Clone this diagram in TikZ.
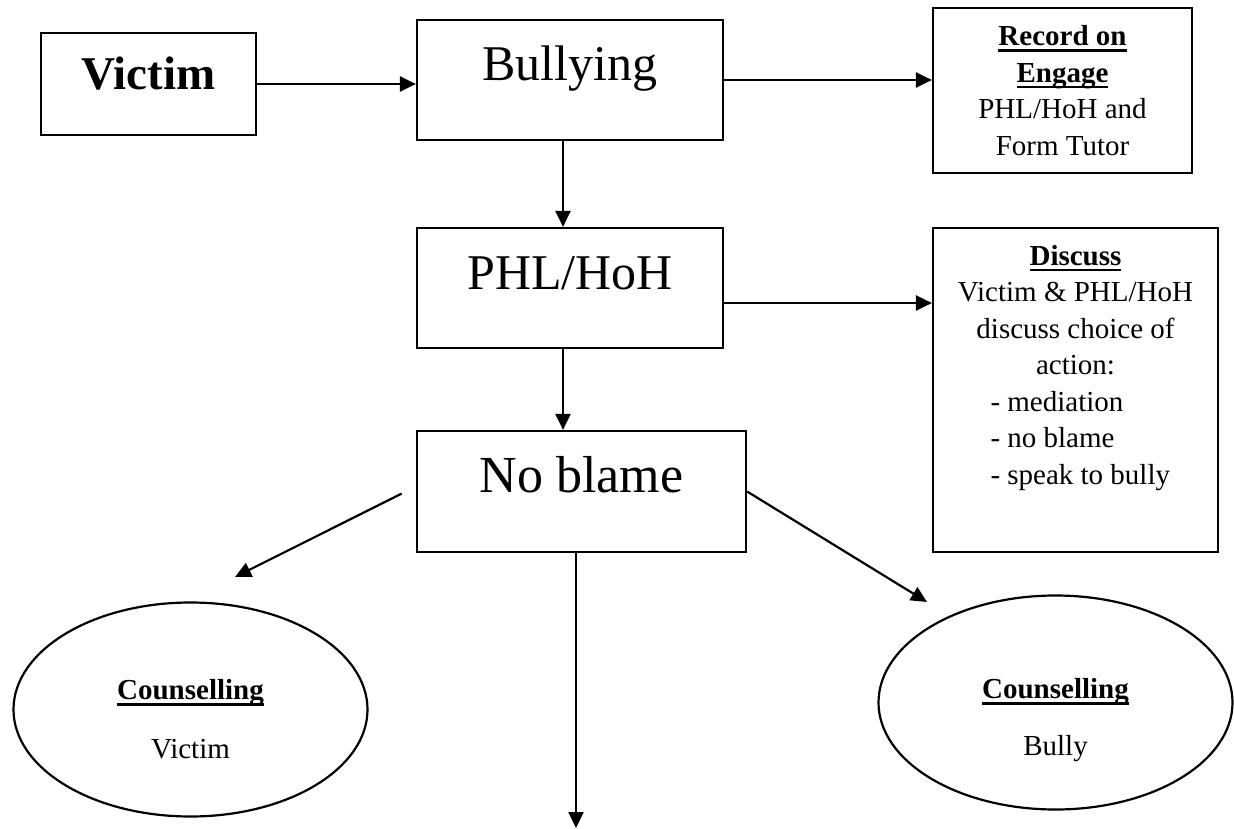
\documentclass[tikz,border=0pt]{standalone}
\usepackage{fontspec}
\setmainfont{Liberation Serif}
\usetikzlibrary{arrows.meta,shapes.geometric,positioning}
\newcommand{\undl}[1]{\setbox0\hbox{#1}\rlap{\rule[-6pt]{\wd0}{2.4pt}}\box0}
\begin{document}
\begin{tikzpicture}[x=1pt,y=-1pt,
    box/.style={draw,line width=2.2pt,inner sep=0pt},
    big/.style={font=\fontsize{50}{60}\selectfont,text height=61pt,text depth=59pt},
    small/.style={font=\fontsize{29}{36.5}\selectfont,align=center},
    oval/.style={draw,ellipse,line width=2.2pt,inner sep=0pt,
      minimum width=354pt,minimum height=214pt,font=\fontsize{29}{35}\selectfont,align=center},
    link/.style={-{Triangle[length=16pt,width=15pt]},line width=2.2pt}]
  \useasboundingbox (0,0) rectangle (1234,829);
  \node[box,font=\fontsize{47}{56}\selectfont\bfseries,minimum width=215pt,
    text height=57pt,text depth=45pt] (victim) at (148.5,84) {Victim};
  \node[box,big,minimum width=306pt] (bully) at (570,80) {Bullying};
  \node[box,big,minimum width=306pt] (phl) at (570,288) {PHL/HoH};
  \node[box,big,font=\fontsize{52}{62}\selectfont,minimum width=329pt,text depth=60pt]
    (noblame) at (581.5,491.5) {No blame};
  \node[box,small,minimum width=259pt,minimum height=165pt] (record) at (1062.5,90.5)
    {\undl{\textbf{Record on}}\\\undl{\textbf{Engage}}\\PHL/HoH and\\Form Tutor};
  \node[box,minimum width=285pt,minimum height=324pt] (discuss) at (1075.5,390) {};
  \node[small,inner sep=0pt,below=18pt of discuss.north] (discusstext)
    {\undl{\textbf{Discuss}}\\Victim \& PHL/HoH\\discuss choice of\\action:\\
     \makebox[170pt][l]{- mediation}\\\makebox[170pt][l]{- no blame}\\
     \makebox[170pt][l]{- speak to bully}};
  \node[oval] (cvictim) at (190.5,709.5)
    {\rule{0pt}{40pt}\undl{\textbf{Counselling}}\\[24pt]Victim};
  \node[oval] (cbully) at (1055.5,702.5)
    {\rule{0pt}{56pt}\undl{\textbf{Counselling}}\\[22pt]Bully};
  \coordinate (lefttip) at (235,577);
  \coordinate (righttip) at (927,602);
  \coordinate (bottom) at (576,828);
  \begin{scope}[link]
    \draw (victim.east) to (victim.east -| bully.west);
    \draw (bully.east) to (bully.east -| record.west);
    \draw ([xshift=-7pt]bully.south) to ([xshift=-7pt]phl.north);
    \draw ([yshift=-15pt]phl.east) to ([yshift=-15pt]phl.east -| discuss.west);
    \draw ([xshift=-7pt]phl.south) to ([xshift=-7pt]phl.south |- noblame.north);
    \draw ([xshift=-5.5pt]noblame.south) to (bottom);
    \draw[shorten <=16pt] ([yshift=5pt]noblame.west) to (lefttip);
    \draw (noblame.east) to (righttip);
  \end{scope}
\end{tikzpicture}
\end{document}
